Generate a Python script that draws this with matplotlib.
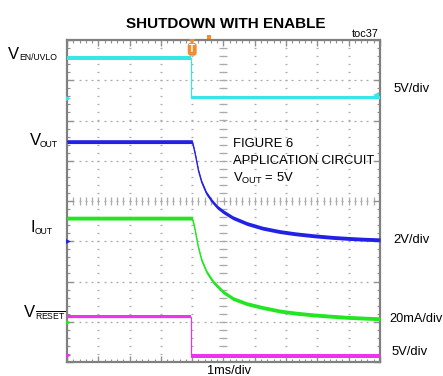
import matplotlib
matplotlib.use("Agg")
import matplotlib.pyplot as plt
import numpy as np

# ---- channel data (time in ms relative to the trigger) ----
en_t = [-4.0, -0.03, -0.03, 6.0]
en_v = [4.92, 4.92, 0.0, 0.0]             # V

vout_t = [-4.0, 0.0, 0.05, 0.1, 0.2, 0.3, 0.45, 0.63, 0.8, 1.0, 1.3, 1.75,
          2.25, 2.8, 3.3, 3.9, 4.5, 5.0, 5.5, 6.0]
vout_v = [4.95, 4.95, 4.65, 4.3, 3.5, 2.95, 2.4, 2.0, 1.7, 1.46, 1.17, 0.88,
          0.65, 0.48, 0.37, 0.27, 0.19, 0.14, 0.10, 0.07]   # V

iout_t = [-4.0, 0.0, 0.05, 0.09, 0.19, 0.3, 0.46, 0.67, 0.99, 1.31, 1.74,
          2.27, 2.81, 3.3, 3.87, 4.4, 4.94, 5.5, 6.0]
iout_ma = [51.5, 51.5, 48.5, 45.6, 37.4, 30.7, 24.8, 19.8, 14.8, 11.5, 9.0,
           7.0, 5.3, 4.3, 3.4, 2.8, 2.2, 1.8, 1.5]          # mA

reset_t = [-4.0, -0.03, -0.03, 6.0]
reset_v = [4.9, 4.9, 0.0, 0.0]            # V

# ---- scope channel settings: (scale per division, ground position in divisions) ----
EN_SCALE, EN_POS = 5.0, 6.57
VOUT_SCALE, VOUT_POS = 2.0, 3.0
IOUT_SCALE, IOUT_POS = 20.0, 1.0
RST_SCALE, RST_POS = 5.0, 0.15

C_EN = "#38E6E6"
C_VOUT = "#2222E6"
C_IOUT = "#22E622"
C_RST = "#EE33EE"
C_TRIG = "#F28C30"

FONT = "Liberation Sans"
plt.rcParams["font.family"] = [FONT, "DejaVu Sans"]
plt.rcParams["mathtext.fontset"] = "custom"
plt.rcParams["mathtext.rm"] = FONT
plt.rcParams["mathtext.it"] = FONT + ":italic"
plt.rcParams["mathtext.bf"] = FONT + ":bold"

W, H = 443, 376
fig = plt.figure(figsize=(W / 100, H / 100), dpi=100)
ax = fig.add_axes([67 / W, 1 - 362 / H, 313 / W, 322 / H])
ax.set_xlim(-4, 6)
ax.set_ylim(0, 8)

# graticule
GRID = "#ABABAB"
ydots = np.arange(0.2, 8.0, 0.2)
xdots = np.arange(-3.8, 6.0, 0.2)
for gx in range(-3, 6):
    ax.plot([gx] * len(ydots), ydots, ls="none", marker="_", ms=1.6, mew=0.9,
            color=GRID, zorder=1)
for gy in range(1, 8):
    ax.plot(xdots, [gy] * len(xdots), ls="none", marker="_", ms=1.6, mew=0.9,
            color=GRID, zorder=1)
# center cross tick marks
ax.plot([1] * len(ydots), ydots, ls="none", marker="_", ms=6, mew=0.9,
        color=GRID, zorder=1)
ax.plot(xdots, [4] * len(xdots), ls="none", marker="|", ms=6, mew=0.9,
        color=GRID, zorder=1)

for s in ax.spines.values():
    s.set_color("#808080")
    s.set_linewidth(1.6)
ax.set_xticks(range(-4, 7))
ax.set_yticks(range(0, 9))
ax.set_xticks(np.arange(-4, 6.01, 0.2), minor=True)
ax.set_yticks(np.arange(0, 8.01, 0.2), minor=True)
ax.tick_params(which="both", direction="in", top=True, right=True,
               labelbottom=False, labelleft=False, color="#909090")
ax.tick_params(which="major", length=4, width=1)
ax.tick_params(which="minor", length=2.5, width=0.8)

BAND = 0.048


def trace(t, vals, scale, pos, color):
    t = np.asarray(t, float)
    y = pos + np.asarray(vals, float) / scale
    ax.plot(t, y, color=color, lw=0.9, zorder=3, solid_joinstyle="round")
    ax.fill_between(t, y - BAND, y + BAND, color=color, lw=0, zorder=3)


trace(en_t, en_v, EN_SCALE, EN_POS, C_EN)
trace(vout_t, vout_v, VOUT_SCALE, VOUT_POS, C_VOUT)
trace(iout_t, iout_ma, IOUT_SCALE, IOUT_POS, C_IOUT)
trace(reset_t, reset_v, RST_SCALE, RST_POS, C_RST)

# channel ground markers
for pos, c in [(EN_POS, C_EN), (VOUT_POS, C_VOUT), (IOUT_POS, C_IOUT), (RST_POS + 0.02, C_RST)]:
    ax.plot(-3.97, pos, marker=">", ms=3.5, color=c, mew=0, clip_on=False, zorder=5)
ax.plot(5.88, 6.63, marker="<", ms=4, color=C_EN, mew=0, clip_on=False, zorder=5)

# trigger markers
ax.plot(0, 7.94, marker="v", ms=5, color=C_TRIG, mew=0, clip_on=False, zorder=6)
ax.text(0, 7.77, "T", ha="center", va="center", color="white", fontsize=7,
        fontweight="bold", zorder=7,
        bbox=dict(boxstyle="round,pad=0.15,rounding_size=0.3", fc=C_TRIG, ec="none"))
ax.plot(0.54, 8.08, marker="s", ms=2.5, color=C_TRIG, mew=0, clip_on=False, zorder=6)


def ftext(x, y, s, **kw):
    fig.text(x / W, 1 - y / H, s, **kw)


def signal_label(x, base, main, xs, sub_base, sub):
    ftext(x, base, main, ha="left", va="baseline", fontsize=12)
    ftext(xs, sub_base, sub, ha="left", va="baseline", fontsize=6.2)


ftext(226, 28.3, "SHUTDOWN WITH ENABLE", ha="center", va="baseline",
      fontsize=11, fontweight="bold")
ftext(379, 36.7, "toc37", ha="right", va="baseline", fontsize=7.8)

signal_label(8.3, 59.3, "V", 19.6, 60.5, "EN/UVLO")
signal_label(29.5, 145, "V", 39.8, 146.7, "OUT")
signal_label(30.5, 232, "I", 34.6, 234, "OUT")
signal_label(24, 317, "V", 34.6, 319.3, r"$\overline{\mathrm{RESET}}$")

ftext(394, 92, "5V/div", ha="left", va="baseline", fontsize=9.4)
ftext(393, 243, "2V/div", ha="left", va="baseline", fontsize=9.4)
ftext(389.5, 321.7, "20mA/div", ha="left", va="baseline", fontsize=9.2)
ftext(391.7, 355, "5V/div", ha="left", va="baseline", fontsize=9.4)
ftext(229.5, 374.5, "1ms/div", ha="center", va="baseline", fontsize=9.2)

ftext(233.3, 146.7, "FIGURE 6", ha="left", va="baseline", fontsize=9.4)
ftext(233.3, 164.3, "APPLICATION CIRCUIT", ha="left", va="baseline", fontsize=9.4)
ftext(233.3, 181.7, r"$\mathrm{V_{OUT}}$ = 5V", ha="left", va="baseline", fontsize=9.4)

fig.savefig("out.png", dpi=100, facecolor="white")
